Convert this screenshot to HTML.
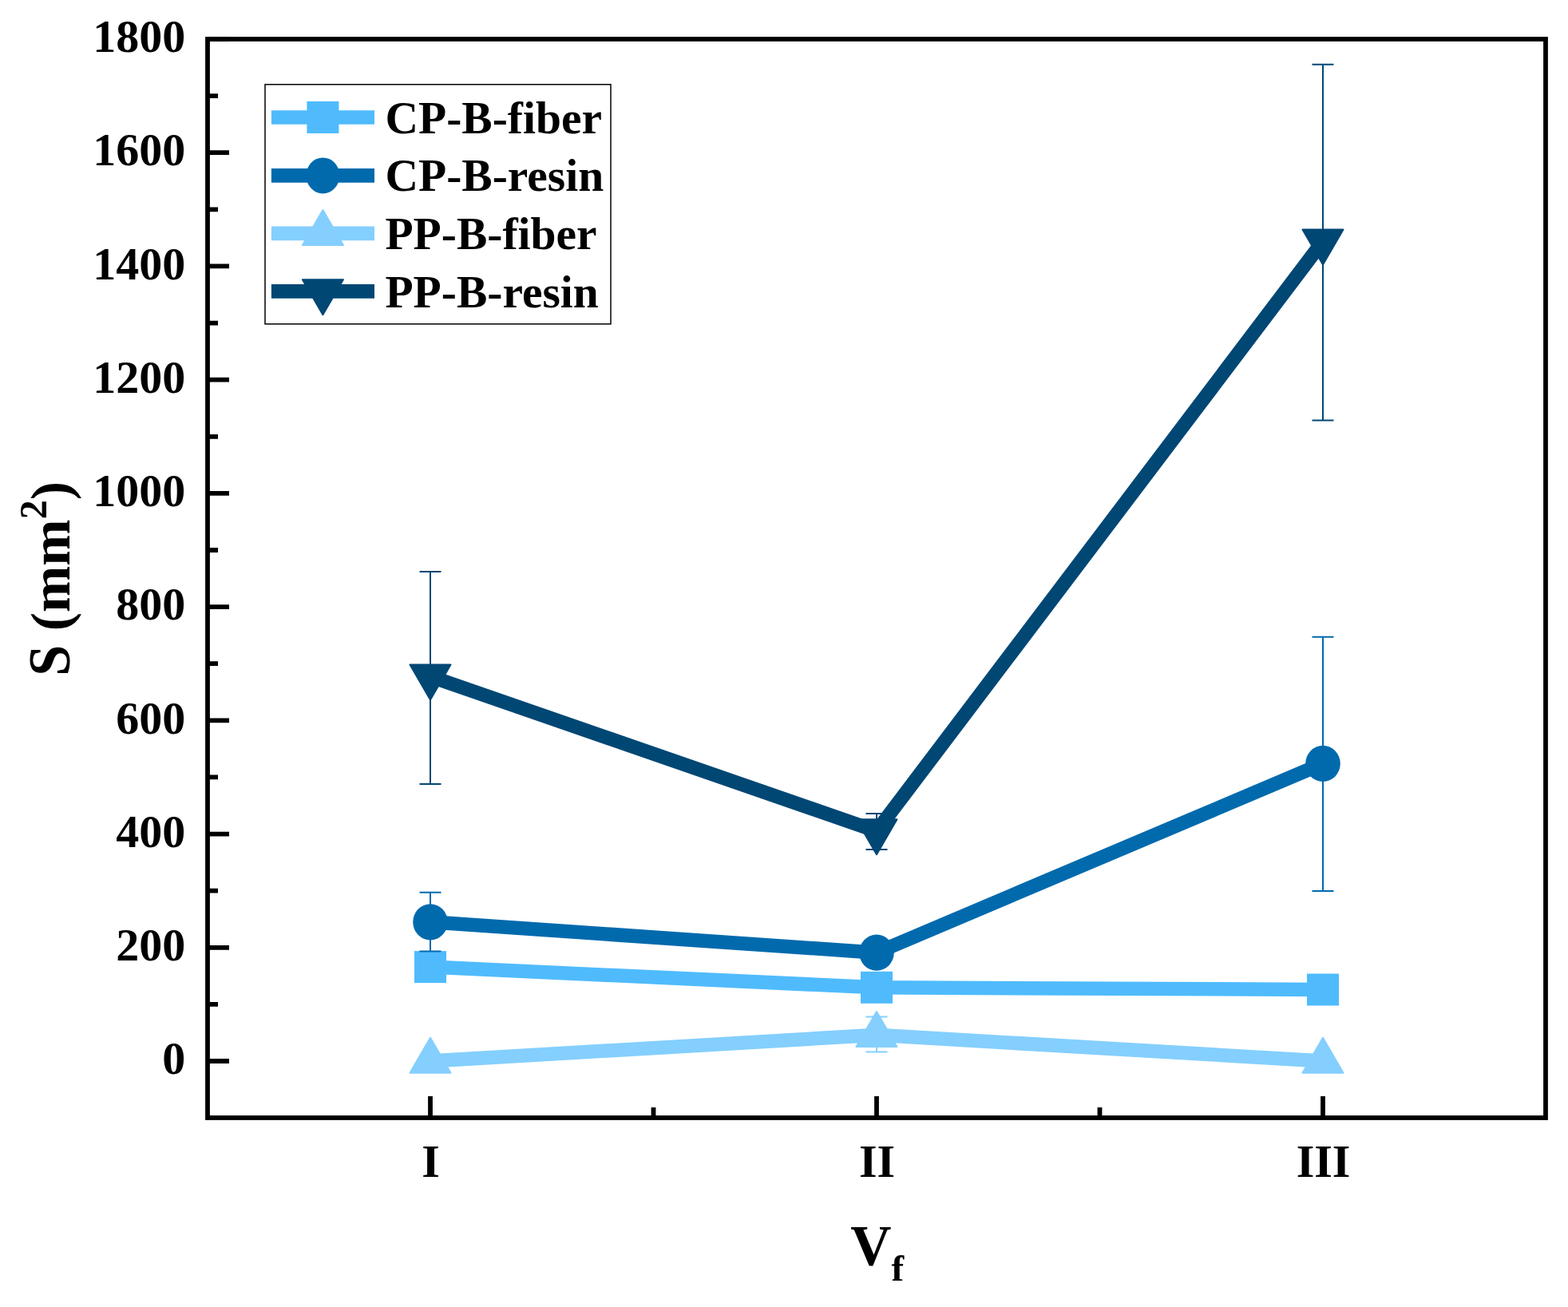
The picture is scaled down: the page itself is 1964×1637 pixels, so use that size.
<!DOCTYPE html><html><head><meta charset="utf-8"><title>S vs Vf</title><style>html,body{margin:0;padding:0;background:#fff;}svg{display:block}text{font-family:"Liberation Serif","Times New Roman",serif;font-weight:bold;fill:#000}</style></head><body>
<svg width="1964" height="1637" viewBox="0 0 1964 1637">
<rect width="1964" height="1637" fill="#fff"/>
<path d="M260 1329.0H287M260 1186.8H287M260 1044.6H287M260 902.3H287M260 760.1H287M260 617.9H287M260 475.7H287M260 333.4H287M260 191.2H287M260 49.0H287M260 1257.9H273M260 1115.7H273M260 973.4H273M260 831.2H273M260 689.0H273M260 546.8H273M260 404.6H273M260 262.3H273M260 120.1H273M539 1400V1373M1098 1400V1373M1657 1400V1373M818.5 1400V1387M1377.5 1400V1387" stroke="#000" stroke-width="5.8" fill="none"/>
<rect x="260" y="49" width="1676" height="1351" fill="none" stroke="#000" stroke-width="5.8"/>
<text x="232.2" y="1345.2" font-size="58" text-anchor="end">0</text>
<text x="232.2" y="1203.0" font-size="58" text-anchor="end">200</text>
<text x="232.2" y="1060.8" font-size="58" text-anchor="end">400</text>
<text x="232.2" y="918.5" font-size="58" text-anchor="end">600</text>
<text x="232.2" y="776.3" font-size="58" text-anchor="end">800</text>
<text x="232.2" y="634.1" font-size="58" text-anchor="end">1000</text>
<text x="232.2" y="491.9" font-size="58" text-anchor="end">1200</text>
<text x="232.2" y="349.6" font-size="58" text-anchor="end">1400</text>
<text x="232.2" y="207.4" font-size="58" text-anchor="end">1600</text>
<text x="232.2" y="65.2" font-size="58" text-anchor="end">1800</text>
<text x="539.5" y="1474" font-size="58" text-anchor="middle">I</text>
<text x="1098.5" y="1474" font-size="58" text-anchor="middle">II</text>
<text x="1657.5" y="1474" font-size="58" text-anchor="middle">III</text>
<text transform="translate(87.2 846.7) rotate(-90) scale(1 1.045)" font-size="70">S</text>
<text transform="translate(87 846.7) rotate(-90)" font-size="70"><tspan x="56.44">(mm</tspan><tspan font-size="48" dy="-28.7">2</tspan><tspan dy="28.7">)</tspan></text>
<text x="1065.2" y="1584" font-size="71">V<tspan font-size="47" dy="20">f</tspan></text>
<polyline points="539,1211.1 1098,1236.8 1657,1239.5" fill="none" stroke="#4FBBFD" stroke-width="17.5" stroke-linejoin="round"/>
<rect x="519.0" y="1191.1" width="40" height="40" fill="#4FBBFD"/>
<rect x="1078.0" y="1216.8" width="40" height="40" fill="#4FBBFD"/>
<rect x="1637.0" y="1219.5" width="40" height="40" fill="#4FBBFD"/>
<path d="M539 1117.8V1191.4M525.5 1117.8h27M525.5 1191.4h27" stroke="#006AAD" stroke-width="2" fill="none"/>
<path d="M1657 797.7V1115.9M1643.5 797.7h27M1643.5 1115.9h27" stroke="#006AAD" stroke-width="2" fill="none"/>
<polyline points="539,1154.8 1098,1193.2 1657,956.4" fill="none" stroke="#006AAD" stroke-width="17.5" stroke-linejoin="round"/>
<ellipse cx="539.0" cy="1154.8" rx="21.8" ry="22.6" fill="#006AAD"/>
<ellipse cx="1098.0" cy="1193.2" rx="21.8" ry="22.6" fill="#006AAD"/>
<ellipse cx="1657.0" cy="956.4" rx="21.8" ry="22.6" fill="#006AAD"/>
<path d="M1098 1273.6V1317.6M1084.5 1273.6h27M1084.5 1317.6h27" stroke="#84CFFE" stroke-width="2" fill="none"/>
<polyline points="539,1329.0 1098,1296.3 1657,1329.0" fill="none" stroke="#84CFFE" stroke-width="17.5" stroke-linejoin="round"/>
<polygon points="539.0,1299.7 564.5,1343.7 513.5,1343.7" fill="#84CFFE" stroke="#84CFFE" stroke-width="2" stroke-linejoin="round"/>
<polygon points="1098.0,1267.0 1123.5,1311.0 1072.5,1311.0" fill="#84CFFE" stroke="#84CFFE" stroke-width="2" stroke-linejoin="round"/>
<polygon points="1657.0,1299.7 1682.5,1343.7 1631.5,1343.7" fill="#84CFFE" stroke="#84CFFE" stroke-width="2" stroke-linejoin="round"/>
<path d="M539 716V982M525.5 716h27M525.5 982h27" stroke="#014774" stroke-width="2" fill="none"/>
<path d="M1098 1019V1064M1084.5 1019h27M1084.5 1064h27" stroke="#014774" stroke-width="2" fill="none"/>
<path d="M1657 80.8V526.6M1643.5 80.8h27M1643.5 526.6h27" stroke="#014774" stroke-width="2" fill="none"/>
<polyline points="539,847.2 1098,1041.0 1657,302.3" fill="none" stroke="#014774" stroke-width="17.5" stroke-linejoin="round"/>
<polygon points="539.0,876.6 564.5,832.6 513.5,832.6" fill="#014774" stroke="#014774" stroke-width="2" stroke-linejoin="round"/>
<polygon points="1098.0,1070.3 1123.5,1026.3 1072.5,1026.3" fill="#014774" stroke="#014774" stroke-width="2" stroke-linejoin="round"/>
<polygon points="1657.0,331.6 1682.5,287.6 1631.5,287.6" fill="#014774" stroke="#014774" stroke-width="2" stroke-linejoin="round"/>
<rect x="332" y="105.8" width="433" height="300" fill="#fff" stroke="#000" stroke-width="1.5"/>
<path d="M339.9 147H469" stroke="#4FBBFD" stroke-width="17.7"/>
<rect x="384.4" y="127.0" width="40" height="40" fill="#4FBBFD"/>
<text x="482.5" y="166.9" font-size="57.5">CP-B-fiber</text>
<path d="M339.9 219.9H469" stroke="#006AAD" stroke-width="17.7"/>
<ellipse cx="404.4" cy="219.9" rx="21" ry="22.5" fill="#006AAD"/>
<text x="482.5" y="239.0" font-size="57.5">CP-B-resin</text>
<path d="M339.9 292.4H469" stroke="#84CFFE" stroke-width="17.7"/>
<polygon points="404.4,263.1 429.9,307.1 378.9,307.1" fill="#84CFFE" stroke="#84CFFE" stroke-width="2" stroke-linejoin="round"/>
<text x="482.5" y="312.0" font-size="57.5">PP-B-fiber</text>
<path d="M339.9 364.9H469" stroke="#014774" stroke-width="17.7"/>
<polygon points="404.4,394.2 429.9,350.2 378.9,350.2" fill="#014774" stroke="#014774" stroke-width="2" stroke-linejoin="round"/>
<text x="482.5" y="384.8" font-size="57.5">PP-B-resin</text>
</svg></body></html>
